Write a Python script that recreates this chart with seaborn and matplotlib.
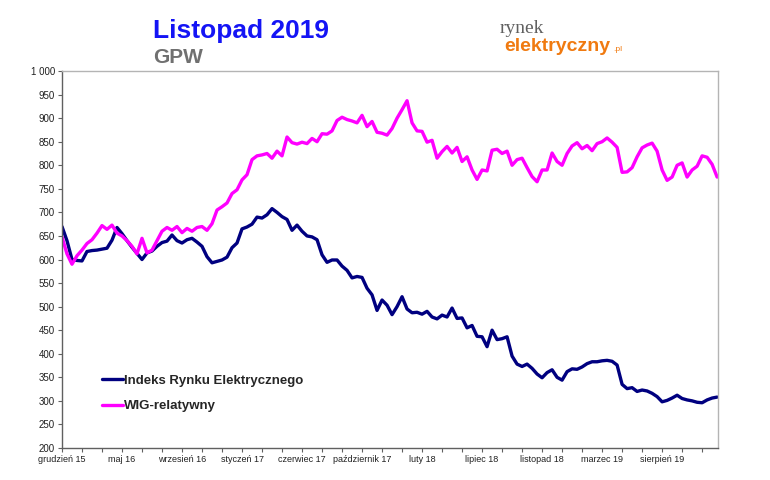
import numpy as np
import pandas as pd
import seaborn as sns
import matplotlib.pyplot as plt

# odczyt co 11 dni (od końca grudnia 2015)
ire = [670, 640, 600, 598, 597, 617, 619, 620, 622, 624, 641, 668, 655, 640, 626, 613,
       600, 614, 618, 628, 636, 639, 652, 640, 635, 642, 645, 637, 628, 606, 593, 596,
       599, 605, 625, 635, 665, 669, 675, 690, 688, 695, 708, 700, 691, 685, 662, 673,
       660, 650, 648, 642, 610, 594, 599, 599, 586, 577, 561, 564, 562, 539, 525, 492,
       514, 503, 483, 500, 521, 495, 487, 488, 484, 490, 478, 474, 482, 478, 497, 475,
       476, 455, 460, 437, 436, 415, 450, 430, 432, 436, 395, 378, 373, 378, 369, 357,
       349, 360, 366, 350, 344, 362, 368, 367, 372, 379, 383, 383, 385, 386, 384, 376,
       335, 326, 328, 320, 323, 321, 316, 309, 298, 301, 306, 312, 305, 302, 300, 297,
       296, 302, 306, 308]

wig = [648, 612, 590, 608, 620, 634, 642, 656, 672, 664, 673, 656, 650, 640, 628, 612,
       645, 614, 620, 640, 660, 668, 662, 670, 657, 666, 660, 668, 670, 662, 676, 705,
       712, 720, 740, 748, 769, 780, 812, 820, 822, 825, 815, 830, 820, 860, 848, 845,
       849, 846, 857, 850, 867, 866, 873, 895, 902, 897, 894, 890, 906, 882, 893, 870,
       868, 864, 878, 900, 918, 937, 890, 873, 872, 849, 853, 815, 829, 840, 826, 838,
       808, 818, 790, 770, 790, 788, 832, 834, 825, 830, 800, 812, 815, 795, 776, 765,
       790, 790, 826, 808, 800, 825, 841, 848, 835, 842, 831, 846, 850, 858, 849, 838,
       785, 786, 795, 818, 837, 843, 847, 830, 790, 768, 775, 800, 805, 775, 790, 798,
       820, 817, 802, 775]

miesiace = ['grudzień 15', 'maj 16', 'wrzesień 16', 'styczeń 17', 'czerwiec 17',
            'październik 17', 'luty 18', 'lipiec 18', 'listopad 18', 'marzec 19',
            'sierpień 19']

krok = 11
df = pd.DataFrame({'dzien': np.arange(len(ire)) * krok, 'IRE': ire, 'WIG': wig})

sns.set_style('white')
plt.rcParams['font.family'] = ['Liberation Sans', 'DejaVu Sans']

fig = plt.figure(figsize=(7.7, 4.8), dpi=100)
ax = fig.add_axes([0.0805, 0.0667, 0.852, 0.7853])

sns.lineplot(data=df, x='dzien', y='IRE', color='#000080', linewidth=2.4,
             label='Indeks Rynku Elektrycznego', ax=ax)
sns.lineplot(data=df, x='dzien', y='WIG', color='#FF00FF', linewidth=2.4,
             label='WIG-relatywny', ax=ax)

ax.set_xlim(0, 1443)
ax.set_ylim(200, 1000)
ax.set_xlabel('')
ax.set_ylabel('')

ax.set_xticks(np.arange(0, 1443, 44), minor=True)
ax.set_xticks(np.arange(len(miesiace)) * 132)
ax.set_xticklabels(miesiace, fontsize=6.5, color='#202020')
ax.set_yticks(range(200, 1001, 50))
ax.set_yticklabels([f'{v:,}'.replace(',', ' ') for v in range(200, 1001, 50)],
                   fontsize=7, color='#202020')
ax.tick_params(axis='both', which='both', direction='out', length=3, width=0.8,
               color='#606060', pad=2, bottom=True, left=True)

for s in ['left', 'bottom']:
    ax.spines[s].set_color('#606060')
    ax.spines[s].set_linewidth(1.0)
for s in ['top', 'right']:
    ax.spines[s].set_color('#b4b4b4')
    ax.spines[s].set_linewidth(1.0)

ax.legend(loc='lower left', bbox_to_anchor=(0.043, 0.063), frameon=False,
          handlelength=1.6, handletextpad=0.08, labelspacing=1.0,
          prop={'weight': 'bold', 'size': 9.5})

fig.text(0.199, 0.921, 'Listopad 2019', color='#1414F5', fontsize=19, fontweight='bold',
         ha='left', va='baseline')
fig.text(0.199, 0.869, 'GPW', color='#707070', fontsize=15, fontweight='bold',
         ha='left', va='baseline')
fig.text(0.649, 0.931, 'rynek', color='#606060', fontsize=14,
         family=['Liberation Serif', 'DejaVu Serif'], ha='left', va='baseline')
fig.text(0.655, 0.894, 'elektryczny', color='#F07A10', fontsize=14, fontweight='bold',
         ha='left', va='baseline')
fig.text(0.797, 0.894, '.pl', color='#F07A10', fontsize=6,
         ha='left', va='baseline')

fig.savefig('out.png', dpi=100, facecolor='white')
